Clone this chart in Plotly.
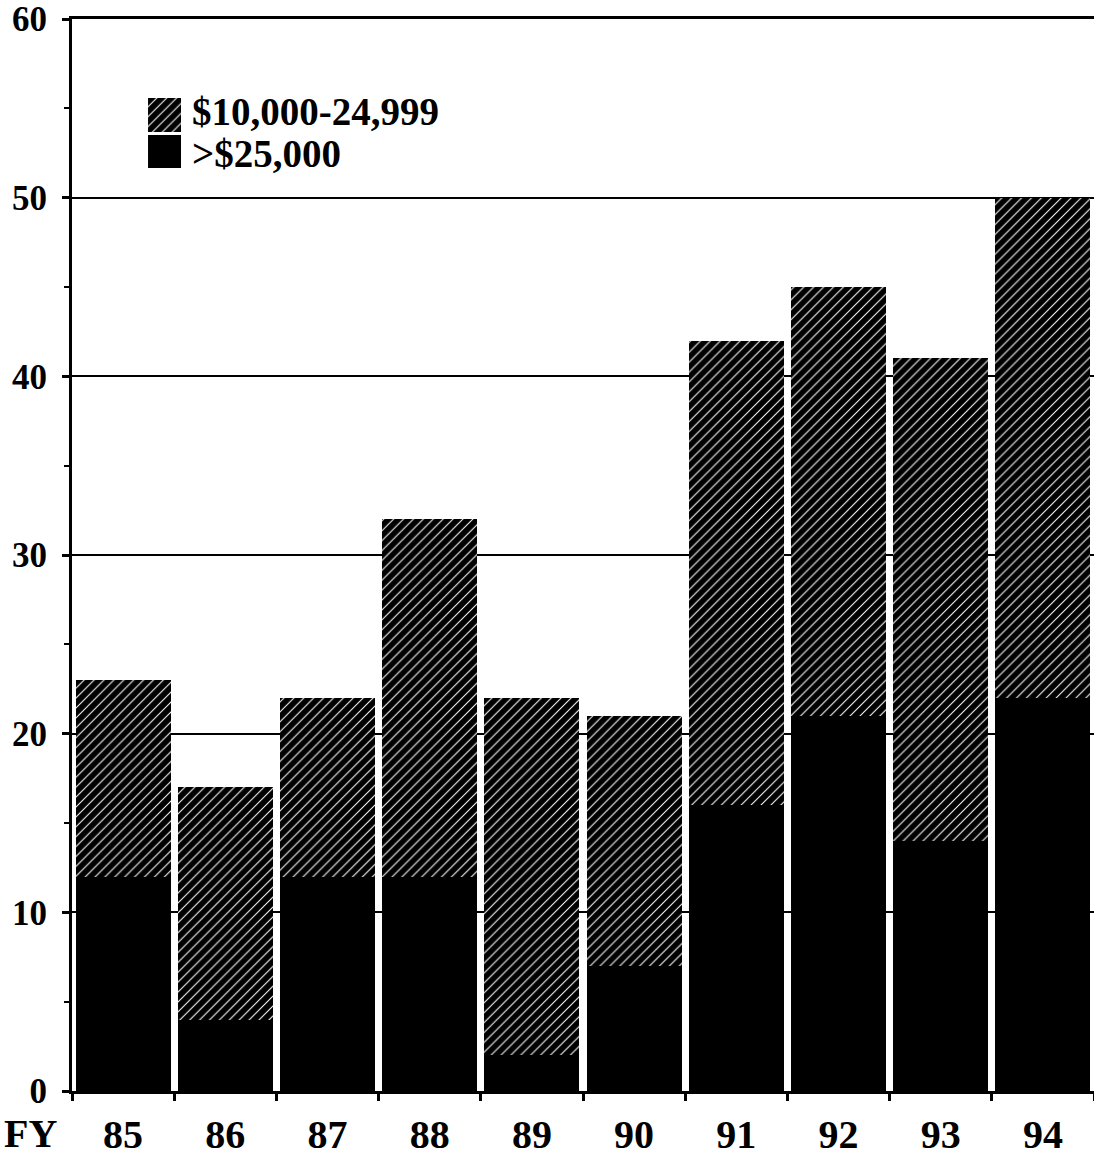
import plotly.graph_objects as go

years = ["85", "86", "87", "88", "89", "90", "91", "92", "93", "94"]
over_25k = [12, 4, 12, 12, 2, 7, 16, 21, 14, 22]
range_10k_25k = [11, 13, 10, 20, 20, 14, 26, 24, 27, 28]
y_ticks = [0, 10, 20, 30, 40, 50, 60]
series_names = ["$10,000-24,999", ">$25,000"]

FONT = "Liberation Serif"
HATCH = dict(shape="/", bgcolor="black", fgcolor="white", size=7, solidity=0.15, fillmode="replace")

fig = go.Figure()
fig.add_trace(go.Bar(
    x=years, y=over_25k, name=series_names[1], showlegend=False,
    marker=dict(color="black", line=dict(width=0)),
))
fig.add_trace(go.Bar(
    x=years, y=range_10k_25k, name=series_names[0], showlegend=False,
    marker=dict(color="black", line=dict(width=0), pattern=HATCH),
))

# legend swatches drawn on a small auxiliary axis
fig.add_trace(go.Bar(
    x=[1], y=["a"], orientation="h", xaxis="x2", yaxis="y2", showlegend=False,
    hoverinfo="skip", marker=dict(color="black", line=dict(width=0), pattern=HATCH),
))
fig.add_trace(go.Bar(
    x=[1], y=["b"], orientation="h", xaxis="x2", yaxis="y2", showlegend=False,
    hoverinfo="skip", marker=dict(color="black", line=dict(width=0)),
))

fig.update_layout(
    barmode="stack",
    bargap=0.07,
    width=1094, height=1157,
    margin=dict(l=72, r=0, t=19, b=64),
    plot_bgcolor="white", paper_bgcolor="white",
    font=dict(family=FONT, color="black", size=30, weight="bold"),
    showlegend=False,
    xaxis=dict(
        showline=True, linecolor="black", linewidth=3, mirror=True,
        ticks="outside", tickson="boundaries", ticklen=7, tickwidth=3, tickcolor="black",
        tickfont=dict(family=FONT, size=40, weight="bold"),
        ticklabelstandoff=6,
        showgrid=False,
    ),
    yaxis=dict(
        range=[0, 60], tickvals=y_ticks,
        showline=True, linecolor="black", linewidth=3,
        ticks="outside", ticklen=7, tickwidth=3, tickcolor="black",
        tickfont=dict(family=FONT, size=35, weight="bold"),
        ticklabelstandoff=8,
        showgrid=True, gridcolor="black", gridwidth=2,
        minor=dict(dtick=5, ticks="outside", ticklen=5, tickwidth=2, tickcolor="black", showgrid=False),
        zeroline=False,
    ),
    xaxis2=dict(domain=[0.0744, 0.1067], anchor="y2", range=[0, 1], visible=False),
    yaxis2=dict(domain=[0.8594, 0.9274], anchor="x2", categoryorder="array",
                categoryarray=["b", "a"], visible=False),
)

fig.add_annotation(
    text="FY", xref="paper", yref="paper", x=-0.041, y=0,
    xanchor="center", yanchor="middle", yshift=-42, showarrow=False,
    font=dict(family=FONT, size=40, weight="bold", color="black"),
)
for name, ypos in zip(series_names, [0.9135, 0.8745]):
    fig.add_annotation(
        text=name, xref="paper", yref="paper", x=0.1155, y=ypos,
        xanchor="left", yanchor="middle", showarrow=False,
        font=dict(family=FONT, size=39, weight="bold", color="black"),
    )

fig.write_html("out.html")
